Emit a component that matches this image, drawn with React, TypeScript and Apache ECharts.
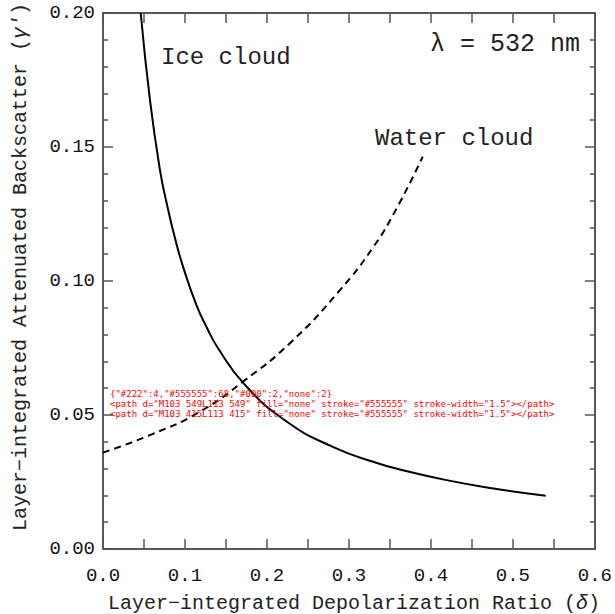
import React, { useEffect, useRef, useState } from "react";
import * as echarts from "echarts";

const FONT = "'Liberation Mono', 'DejaVu Sans Mono', monospace";

const xTicks = [0, 0.1, 0.2, 0.3, 0.4, 0.5, 0.6];
const yTicks = [0, 0.05, 0.1, 0.15, 0.2];

const iceDelta = [0.046, 0.0573, 0.0695, 0.0777, 0.0878, 0.098, 0.114, 0.126, 0.1406, 0.171, 0.22, 0.281, 0.338, 0.362, 0.419, 0.48, 0.54];
const iceGamma = [0.2, 0.1675, 0.1414, 0.129, 0.116, 0.105, 0.091, 0.083, 0.0748, 0.062, 0.0484, 0.038, 0.0317, 0.0297, 0.0257, 0.0224, 0.0199];

const waterDelta = [0, 0.0573, 0.118, 0.171, 0.228, 0.289, 0.33, 0.358, 0.39];
const waterGamma = [0.036, 0.0425, 0.0512, 0.0625, 0.0768, 0.0966, 0.1128, 0.127, 0.1464];

const zip = (a: number[], b: number[]) => a.map((v, i) => [v, b[i]]);

const TICK_COLOR = "#555555";

export default function App() {
  const ref = useRef<HTMLDivElement>(null);
  const [info, setInfo] = useState("");
  useEffect(() => {
    if (!ref.current) return;
    const chart = echarts.init(ref.current, null, { renderer: "svg" });
    const xa = (pos: string, labels: boolean) => ({
      type: "value",
      position: pos,
      min: xTicks[0],
      max: xTicks[xTicks.length - 1],
      interval: 0.1,
      axisLine: { show: true, onZero: false, lineStyle: { color: "#222", width: 1.5 } },
      axisTick: { show: true, inside: true, length: 10, lineStyle: { color: TICK_COLOR, width: 1.5 } },
      minorTick: { show: true, splitNumber: 2, length: 10, lineStyle: { color: TICK_COLOR, width: 1.5 } },
      splitLine: { show: false },
      axisLabel: labels
        ? { show: true, margin: 17, fontSize: 19, fontFamily: FONT, color: "#111", formatter: (v: number) => v.toFixed(1) }
        : { show: false },
    });
    const ya = (pos: string, labels: boolean) => ({
      type: "value",
      position: pos,
      min: yTicks[0],
      max: yTicks[yTicks.length - 1],
      interval: 0.05,
      axisLine: { show: true, onZero: false, lineStyle: { color: "#222", width: 1.5 } },
      axisTick: { show: true, inside: true, length: 10, lineStyle: { color: TICK_COLOR, width: 1.5 } },
      minorTick: { show: true, splitNumber: 5, length: 5, lineStyle: { color: TICK_COLOR, width: 1.5 } },
      splitLine: { show: false },
      axisLabel: labels
        ? { show: true, margin: 8, fontSize: 19, fontFamily: FONT, color: "#111", formatter: (v: number) => v.toFixed(2) }
        : { show: false },
    });
    chart.setOption({
      animation: false,
      backgroundColor: "#fff",
      grid: { left: 103, right: 20, top: 13, bottom: 65 },
      xAxis: [xa("bottom", true), xa("top", false)],
      yAxis: [ya("left", true), ya("right", false)],
      series: [
        {
          name: "Ice cloud",
          type: "line",
          xAxisIndex: 0,
          yAxisIndex: 0,
          data: zip(iceDelta, iceGamma),
          smooth: 0.5,
          showSymbol: false,
          symbol: "none",
          lineStyle: { color: "#000", width: 2, type: "solid" },
        },
        {
          name: "Water cloud",
          type: "line",
          xAxisIndex: 0,
          yAxisIndex: 0,
          data: zip(waterDelta, waterGamma),
          smooth: 0.5,
          showSymbol: false,
          symbol: "none",
          lineStyle: { color: "#000", width: 2, type: [7, 5] },
        },
      ],
      graphic: [
        { type: "text", left: 161, top: 45, style: { text: "Ice cloud", font: `24px ${FONT}`, fill: "#222" } },
        { type: "text", left: 375, top: 126, style: { text: "Water cloud", font: `24px ${FONT}`, fill: "#222" } },
        { type: "text", right: 35, top: 32, style: { text: "λ = 532 nm", font: `25px ${FONT}`, fill: "#222" } },
        {
          type: "text",
          x: 354,
          y: 603,
          style: {
            text: "Layer−integrated Depolarization Ratio ({i|δ})",
            font: `20px ${FONT}`,
            fill: "#222",
            align: "center",
            verticalAlign: "middle",
            rich: { i: { fontStyle: "italic", fontSize: 20, fontFamily: FONT, fill: "#222" } },
          },
        },
        {
          type: "text",
          x: 20,
          y: 267,
          rotation: Math.PI / 2,
          style: {
            text: "Layer−integrated Attenuated Backscatter ({i|γ′})",
            font: `20px ${FONT}`,
            fill: "#222",
            align: "center",
            verticalAlign: "middle",
            rich: { i: { fontStyle: "italic", fontSize: 20, fontFamily: FONT, fill: "#222" } },
          },
        },
      ],
    });
    const svg = ref.current.querySelector("svg");
    if (svg) {
      const all = Array.from(svg.querySelectorAll("path"));
      const strokes: Record<string, number> = {};
      all.forEach((p) => {
        const s = p.getAttribute("stroke") || "none";
        strokes[s] = (strokes[s] || 0) + 1;
      });
      const sample = all.filter((p) => (p.getAttribute("stroke") || "").indexOf("55") >= 0).slice(0, 2).map((p) => p.outerHTML.slice(0, 160));
      setInfo(JSON.stringify(strokes) + "\n" + sample.join("\n"));
    }
    return () => chart.dispose();
  }, []);
  return (
    <>
      <div ref={ref} style={{ position: "absolute", left: 0, top: 0, width: 615, height: 614 }} />
      <pre style={{ position: "absolute", left: 110, top: 380, fontSize: 9, color: "red", whiteSpace: "pre-wrap", width: 480 }}>{info}</pre>
    </>
  );
}
